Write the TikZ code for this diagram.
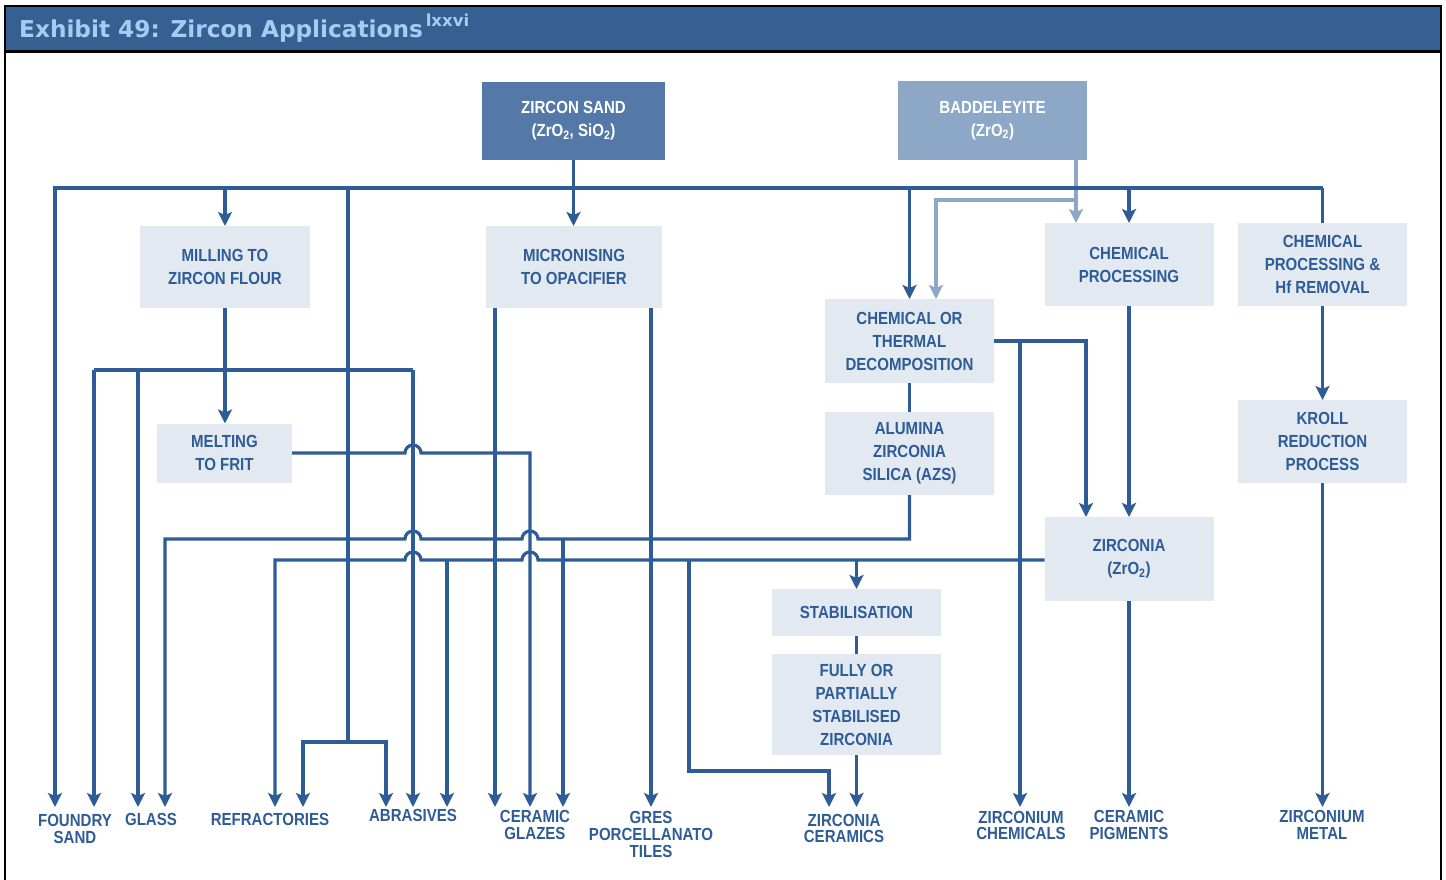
\documentclass[tikz,border=0pt]{standalone}
\usepackage{fontspec}
\setmainfont{Liberation Sans}
\newfontfamily\nf[FakeStretch=0.86]{Liberation Sans}
\newfontfamily\tf{DejaVu Sans}
\usetikzlibrary{arrows.meta,calc}
\definecolor{lc}{HTML}{2E5C97}
\definecolor{boxc}{HTML}{E3E9F1}
\definecolor{zs}{HTML}{5479A8}
\definecolor{bdc}{HTML}{8DA8C7}
\definecolor{ttl}{HTML}{365F92}
\definecolor{ttxt}{HTML}{A7CCF3}
\tikzset{
 ln/.style={draw=lc, line width=3.2pt},
 arr/.style={ln, -{Stealth[length=14pt,width=14pt,inset=3pt]}},
 larr/.style={draw=bdc, line width=3.2pt, -{Stealth[length=14pt,width=14pt,inset=3pt]}},
 box/.style={fill=boxc, inner sep=0pt, outer sep=0pt, align=center, text=lc, font=\nf\bfseries\fontsize{17.5}{23}\selectfont},
 src/.style={box, text=white},
 lbl/.style={anchor=north, inner sep=0pt, outer sep=0pt, align=center, text=lc, font=\nf\bfseries\fontsize{17.5}{16.7}\selectfont},
}
\begin{document}
\begin{tikzpicture}[x=1pt,y=-1pt]
\useasboundingbox (0,0) rectangle (1446,880);
% frame and title
\fill[ttl] (5,6) rectangle (1441,51);
\draw[black,line width=2.5pt] (5,51.5) -- (1441,51.5);
\draw[black,line width=2pt] (5,880) -- (5,6) -- (1441,6) -- (1441,880);
\node[anchor=base west, inner sep=0pt, text=ttxt, font=\tf\bfseries\fontsize{23.2}{28}\selectfont] (title) at (19,37.5) {Exhibit 49: Zircon Applications\hspace{3pt}\raisebox{11pt}{\fontsize{16.5}{18}\selectfont lxxvi}};

% boxes
\node[src, fill=zs, minimum width=183, minimum height=78] (zsand) at (573.5,121) {ZIRCON SAND\\(ZrO\textsubscript{2}, SiO\textsubscript{2})};
\node[src, fill=bdc, minimum width=189, minimum height=79] (badd) at (992.5,120.5) {BADDELEYITE\\(ZrO\textsubscript{2})};
\node[box, minimum width=170, minimum height=82] (mill) at (225,267) {MILLING TO\\ZIRCON FLOUR};
\node[box, minimum width=176, minimum height=82] (micro) at (574,267) {MICRONISING\\TO OPACIFIER};
\node[box, minimum width=169, minimum height=84] (ctd) at (909.5,341) {CHEMICAL OR\\THERMAL\\DECOMPOSITION};
\node[box, minimum width=169, minimum height=83] (cp) at (1129,264.5) {CHEMICAL\\PROCESSING};
\node[box, minimum width=169, minimum height=83] (cphf) at (1322.5,264.5) {CHEMICAL\\PROCESSING \&\\Hf REMOVAL};
\node[box, minimum width=135, minimum height=59] (melt) at (224.5,453) {MELTING\\TO FRIT};
\node[box, minimum width=169, minimum height=83] (azs) at (909.5,453.5) {ALUMINA\\ZIRCONIA\\SILICA (AZS)};
\node[box, minimum width=169, minimum height=83] (kroll) at (1322.5,441.5) {KROLL\\REDUCTION\\PROCESS};
\node[box, minimum width=169, minimum height=84] (zrc) at (1129,559) {ZIRCONIA\\(ZrO\textsubscript{2})};
\node[box, minimum width=169, minimum height=47] (stab) at (856.5,612.5) {STABILISATION};
\node[box, minimum width=169, minimum height=101] (fps) at (856.5,704.5) {FULLY OR\\PARTIALLY\\STABILISED\\ZIRCONIA};

% bottom labels
\node[lbl] (fsand) at (75,814.5) {FOUNDRY\\SAND};
\node[lbl] (glass) at (151,813) {GLASS};
\node[lbl] (refr) at (270,813) {REFRACTORIES};
\node[lbl] (abr) at (413,809.5) {ABRASIVES};
\node[lbl] (cglz) at (535,810.5) {CERAMIC\\GLAZES};
\node[lbl] (gres) at (651,811.5) {GRES\\PORCELLANATO\\TILES};
\node[lbl] (zcer) at (844,814) {ZIRCONIA\\CERAMICS};
\node[lbl] (zchem) at (1021,811) {ZIRCONIUM\\CHEMICALS};
\node[lbl] (cpig) at (1129,810.5) {CERAMIC\\PIGMENTS};
\node[lbl] (zmet) at (1322,810.5) {ZIRCONIUM\\METAL};

% junction coordinates
\coordinate (tip) at (0,807);
\coordinate (bL) at (55,188);
\coordinate (bR) at (cphf.north |- bL);
\coordinate (ab) at (348,742);
\coordinate (r2) at (303,742);
\coordinate (a2) at (386,742);
\coordinate (bx) at (1076,200);
\coordinate (bx2) at (936,200);
\coordinate (h1L) at (94,370);
\coordinate (g1) at (138,370);
\coordinate (h1R) at (413,370);
\coordinate (m1) at (530,453);
\coordinate (a1) at (909.5,539);
\coordinate (cg3) at (563,539);
\coordinate (gl2) at (165,539);
\coordinate (z1) at (275,560);
\coordinate (ab3) at (447,560);
\coordinate (zc1) at (689,560);
\coordinate (zc2) at (689,771);
\coordinate (zc3) at (829,771);
\coordinate (c1) at (1086,341);
\coordinate (c2) at (1020,341);
\coordinate (mc1) at (495,308);
\coordinate (mc2) at (651,308);

% baddeleyite connectors
\draw[larr] (badd.south -| bx) -- (bx |- cp.north);
\draw[larr] (bx) -- (bx2) -- (bx2 |- ctd.north);

% zircon sand bus
\draw[ln] (bR) -- (cphf.north);
\draw[arr] (bR) -- (bL) -- (bL |- tip);
\draw[arr] (mill.north |- bL) -- (mill.north);
\draw[ln] (ab |- bL) -- (ab);
\draw[arr] (ab) -- (r2) -- (r2 |- tip);
\draw[arr] (ab) -- (a2) -- (a2 |- tip);
\draw[arr] (zsand.south) -- (zsand.south |- micro.north);
\draw[arr] (ctd.north |- bL) -- (ctd.north);
\draw[arr] (cp.north |- bL) -- (cp.north);

% zircon flour
\draw[arr] (mill.south) -- (mill.south |- melt.north);
\draw[ln] (h1L) -- (h1R);
\draw[arr] (h1L) -- (h1L |- tip);
\draw[arr] (g1) -- (g1 |- tip);
\draw[arr] (h1R) -- (h1R |- tip);

% frit
\draw[arr] (melt.east |- m1) -- ($(h1R |- m1)+(-8,0)$) arc[start angle=180,end angle=0,radius=8pt] -- (m1) -- (m1 |- tip);

% AZS
\draw[arr] (azs.south) -- (a1) -- ($(m1 |- a1)+(8,0)$) arc[start angle=0,end angle=180,radius=8pt] -- ($(h1R |- a1)+(8,0)$) arc[start angle=0,end angle=180,radius=8pt] -- (gl2) -- (gl2 |- tip);
\draw[arr] (cg3) -- (cg3 |- tip);

% zirconia
\draw[arr] (zrc.west |- z1) -- ($(m1 |- z1)+(8,0)$) arc[start angle=0,end angle=180,radius=8pt] -- ($(h1R |- z1)+(8,0)$) arc[start angle=0,end angle=180,radius=8pt] -- (z1) -- (z1 |- tip);
\draw[arr] (ab3) -- (ab3 |- tip);
\draw[arr] (zc1) -- (zc2) -- (zc3) -- (zc3 |- tip);
\draw[arr] (stab.north |- z1) -- (stab.north);

% micronising
\draw[arr] (mc1) -- (mc1 |- tip);
\draw[arr] (mc2) -- (mc2 |- tip);

% decomposition
\draw[ln] (ctd.south) -- (azs.north);
\draw[arr] (ctd.east |- c1) -- (c1) -- (c1 |- zrc.north);
\draw[arr] (c2) -- (c2 |- tip);
\draw[arr] (cp.south) -- (cp.south |- zrc.north);
\draw[arr] (cphf.south) -- (kroll.north);
\draw[arr] (kroll.south) -- (kroll.south |- tip);
\draw[arr] (zrc.south) -- (zrc.south |- tip);
\draw[ln] (stab.south) -- (fps.north);
\draw[arr] (fps.south) -- (fps.south |- tip);
\end{tikzpicture}
\end{document}
